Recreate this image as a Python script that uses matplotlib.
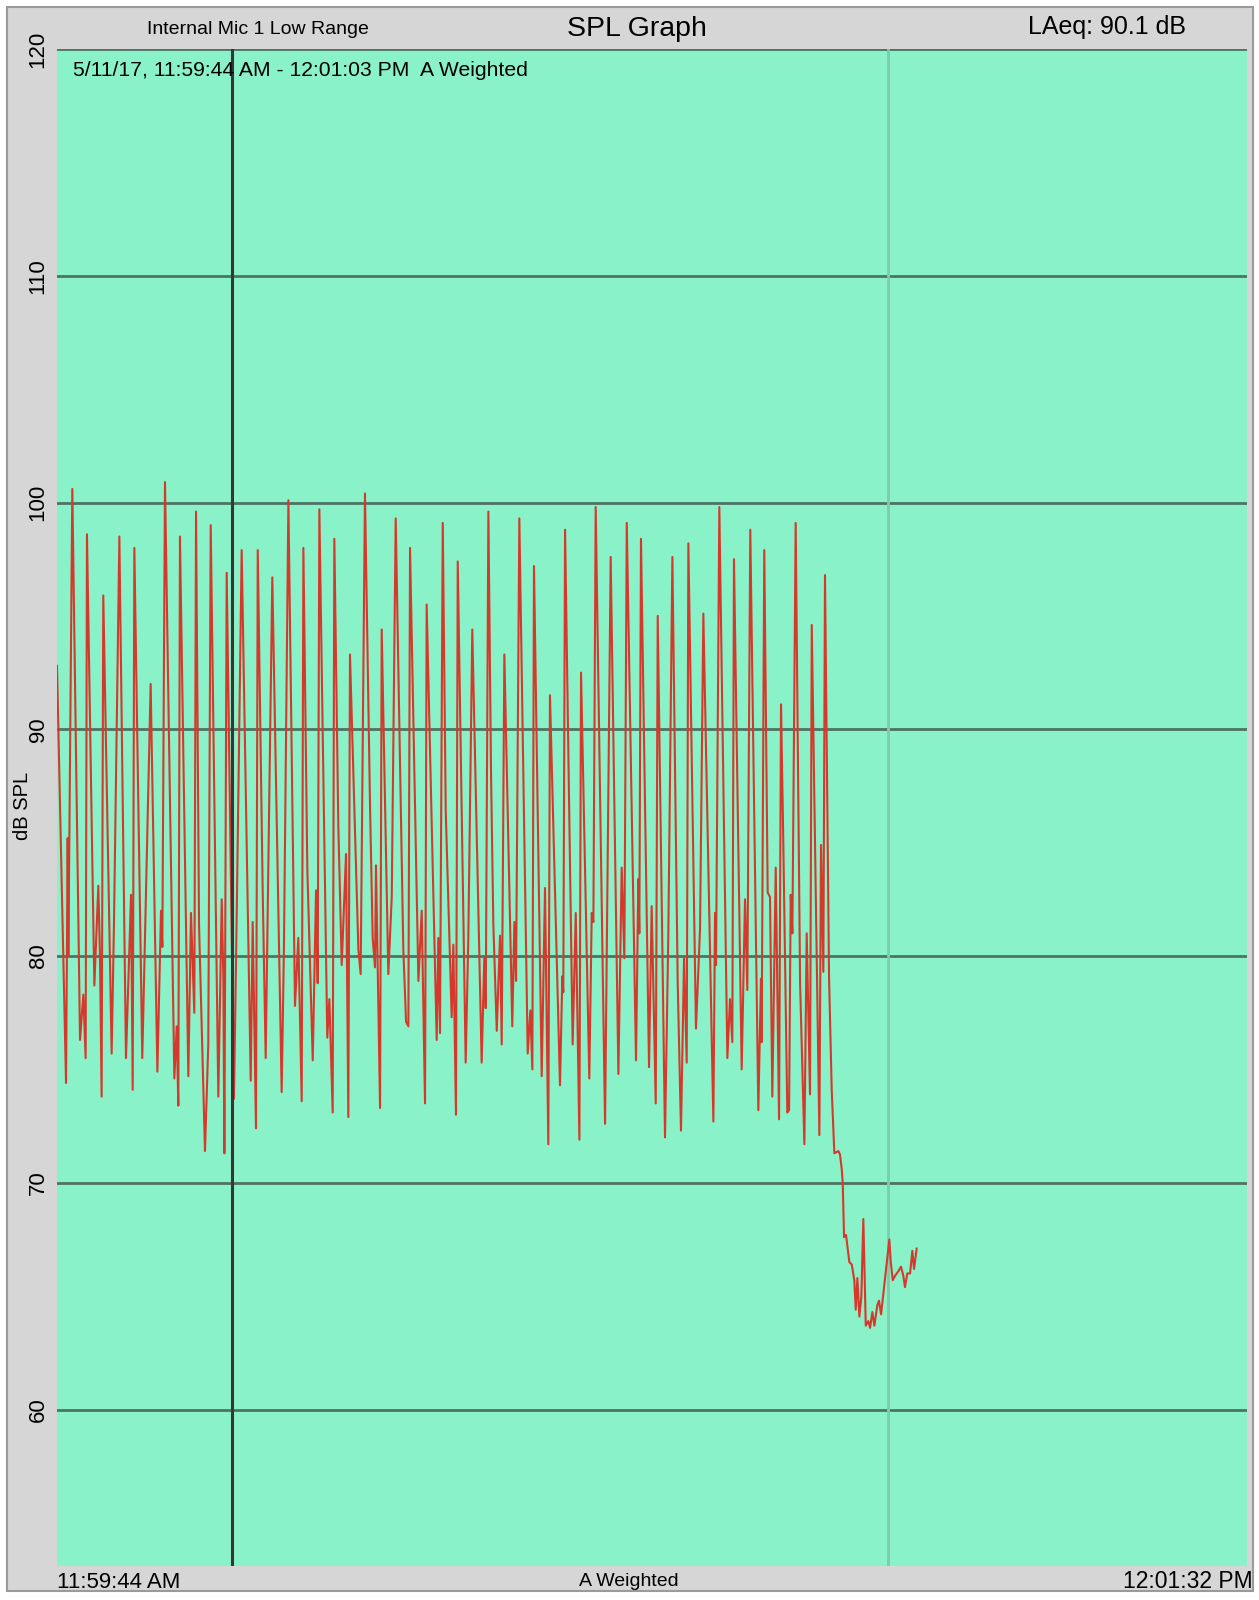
#!/usr/bin/env python3
# -*- coding: utf-8 -*-

import matplotlib
matplotlib.use("Agg")
import matplotlib.pyplot as plt
from matplotlib.patches import Rectangle

# seconds after 11:59:44 AM
times = [0.0, 0.82, 0.97, 1.03, 1.39, 2.09, 2.39, 2.60, 2.72, 3.39, 3.75, 3.90, 4.05, 4.20,
         4.96, 5.17, 5.66, 6.26, 6.72, 6.87, 7.02, 7.74, 8.50, 9.11, 9.44, 9.56, 9.80,
         10.65, 10.86, 11.01, 11.16, 11.92, 12.16, 12.46, 12.62, 12.89, 13.43, 13.73, 13.95,
         14.64, 14.95, 15.10, 15.19, 15.40, 16.06, 16.31, 16.76, 17.58, 17.76, 18.06, 18.22,
         18.67, 18.94, 19.54, 20.39, 20.60, 21.00, 21.60, 21.90, 22.21, 22.36, 22.72, 23.21,
         23.51, 23.66, 23.81, 24.53, 24.72, 25.02, 25.17, 25.53, 25.84, 26.23, 26.44, 26.59,
         27.35, 27.56, 27.95, 28.41, 28.65, 28.86, 28.95, 29.32, 29.47, 30.07, 30.38, 30.74,
         31.43, 31.68, 31.89, 32.04, 32.80, 33.10, 33.40, 33.55, 34.46, 34.61, 34.76, 35.01,
         35.28, 35.82, 35.97, 36.21, 36.37, 37.09, 37.33, 37.69, 38.54, 38.78, 38.91, 39.15,
         39.39, 39.60, 39.91, 40.21, 40.36, 40.60, 41.32, 41.51, 41.66, 41.96, 42.72, 42.96,
         43.14, 43.29, 43.99, 44.29, 44.59, 44.74, 45.65, 45.86, 45.95, 46.11, 46.80, 47.08,
         47.41, 47.56, 48.31, 48.53, 48.68, 48.89, 49.74, 49.95, 50.25, 50.95, 51.25, 51.49,
         51.71, 52.55, 52.76, 52.85, 53.00, 53.73, 53.97, 54.34, 54.52, 55.18, 55.48, 55.85,
         56.33, 56.63, 56.91, 57.15, 57.30, 57.99, 58.36, 58.66, 59.57, 59.72, 59.81, 60.11,
         60.84, 61.08, 61.29, 61.44, 62.14, 62.44, 62.65, 62.92, 63.65, 63.89, 63.95, 64.19,
         64.50, 64.71, 64.92, 65.23, 65.53, 65.71, 65.92, 66.28, 66.44, 66.59, 66.74, 67.04,
         67.44, 67.83, 68.04, 68.34, 68.50, 69.19, 69.34, 69.55, 69.70, 70.07, 70.31, 70.55,
         70.91, 71.06, 71.22, 71.31, 71.43, 71.61, 71.91, 72.13, 72.36, 72.49, 72.64, 72.82,
         73.00, 73.18, 73.40, 73.64, 73.79, 74.00, 74.18, 74.45, 74.60, 74.79, 75.06, 75.30,
         75.54, 75.67, 75.85, 76.06, 76.36, 76.60, 76.81, 76.96, 77.17, 77.42, 77.63, 77.78,
         78.02]

spl = [92.8, 74.4, 85.2, 80.0, 100.6, 76.3, 78.3, 75.5, 98.6, 78.7, 83.1, 80.0, 73.8, 95.9,
       75.7, 81.4, 98.5, 75.5, 82.7, 74.1, 98.0, 75.5, 92.0, 74.9, 82.0, 80.4, 100.9,
       74.6, 76.9, 73.4, 98.5, 74.7, 81.9, 77.5, 99.6, 81.4, 71.4, 76.1, 99.0,
       73.8, 82.5, 79.0, 71.3, 96.9, 73.7, 81.8, 97.9, 74.5, 81.5, 72.4, 97.9,
       82.8, 75.5, 96.7, 74.0, 80.5, 100.1, 77.8, 80.8, 73.6, 98.0, 83.8, 75.4,
       82.9, 78.8, 99.7, 76.4, 78.1, 73.1, 98.4, 85.8, 79.6, 84.5, 72.9, 93.3,
       80.3, 79.2, 100.4, 86.6, 80.8, 79.5, 84.0, 73.3, 94.4, 79.2, 82.6, 99.3,
       80.3, 77.1, 76.9, 98.0, 78.9, 82.0, 73.5, 95.5, 76.3, 80.8, 76.6, 99.1,
       86.4, 77.3, 80.5, 73.0, 97.4, 75.3, 80.8, 94.4, 75.3, 79.9, 77.7, 99.6,
       88.1, 81.4, 76.7, 80.9, 76.1, 93.3, 76.9, 81.5, 78.9, 99.3, 75.7, 77.6,
       75.0, 97.2, 74.7, 83.0, 71.7, 91.5, 74.3, 79.1, 78.4, 98.8, 76.1, 81.9,
       71.9, 92.5, 74.6, 81.9, 81.5, 99.8, 72.6, 83.0, 97.6, 74.8, 83.9, 79.9,
       99.1, 75.4, 83.4, 81.0, 98.4, 75.1, 82.2, 73.5, 95.0, 72.0, 80.9, 97.6,
       78.9, 72.3, 79.9, 75.3, 98.2, 76.8, 81.2, 95.1, 72.7, 81.9, 79.6, 99.8,
       75.5, 78.1, 76.2, 97.5, 75.0, 82.5, 78.5, 98.8, 73.2, 79.0, 76.2, 97.9,
       82.8, 82.6, 73.8, 83.9, 72.8, 91.1, 84.9, 73.1, 73.2, 82.7, 81.0, 99.1,
       78.8, 71.7, 81.0, 73.9, 94.6, 72.1, 84.9, 79.3, 96.8, 79.0, 74.1, 71.3,
       71.4, 71.25, 70.6, 70.0, 67.6, 67.7, 66.5, 66.4, 65.7, 64.4, 65.8, 64.1,
       65.0, 68.4, 63.7, 63.9, 63.6, 64.3, 63.7, 64.6, 64.8, 64.2, 65.4, 66.5,
       67.5, 66.5, 65.7, 65.9, 66.1, 66.3, 65.9, 65.4, 66.0, 66.0, 67.0, 66.2,
       67.1]

y_ticks = [60, 70, 80, 90, 100, 110, 120]
cursor_time = 15.9
marker_time = 75.4
duration = 108.0

W, H = 1259, 1600
plt.rcParams['font.family'] = ['Liberation Sans', 'DejaVu Sans']
fig = plt.figure(figsize=(W / 100, H / 100), dpi=100, facecolor="white")

# gray panel with thin border, behind the axes
panel = Rectangle((7 / W, 1 - 1591 / H), 1246 / W, 1584 / H,
                  transform=fig.transFigure, facecolor="#d6d6d6",
                  edgecolor="#9a9a9a", linewidth=1.5, zorder=-10)
fig.add_artist(panel)

ax = fig.add_axes([57 / W, 1 - 1566 / H, 1190 / W, 1517 / H])
ax.set_zorder(1)
ax.set_facecolor("#8af2c9")
for s in ax.spines.values():
    s.set_visible(False)

ax.set_xlim(0, duration)
ax.set_ylim(53.1, 120)

for v in y_ticks:
    ax.axhline(v, color="#4e7365", linewidth=2, zorder=1)

ax.axvline(marker_time, color="#7fcaaa", linewidth=2, zorder=1)
ax.plot(times, spl, color="#d5392c", linewidth=1.5, zorder=2)
ax.axvline(cursor_time, color="#363636", linewidth=2.2, zorder=3)

ax.set_xticks([])
ax.set_yticks(y_ticks)
ax.set_yticklabels([str(v) for v in y_ticks], rotation=90, va="center")
ax.tick_params(axis="y", length=0, pad=6, labelsize=16)

fig.text(23 / W, 1 - 806 / H, "dB SPL", rotation=90, fontsize=14.5,
         ha="center", va="center")

fig.text(258 / W, 1 - 29 / H, "Internal Mic 1 Low Range", fontsize=14,
         ha="center", va="center")
fig.text(637 / W, 1 - 29 / H, "SPL Graph", fontsize=20.5, ha="center", va="center")
fig.text(1107 / W, 1 - 27 / H, "LAeq: 90.1 dB", fontsize=18, ha="center", va="center")
fig.text(73 / W, 1 - 70 / H, "5/11/17, 11:59:44 AM - 12:01:03 PM  A Weighted",
         fontsize=15.2, ha="left", va="center")

fig.text(57 / W, 1 - 1582 / H, "11:59:44 AM", fontsize=16, ha="left", va="center")
fig.text(629 / W, 1 - 1582 / H, "A Weighted", fontsize=14, ha="center", va="center")
fig.text(1253 / W, 1 - 1582 / H, "12:01:32 PM", fontsize=16.5, ha="right", va="center")

fig.savefig("out.png", dpi=100, facecolor="white")
plt.close()
